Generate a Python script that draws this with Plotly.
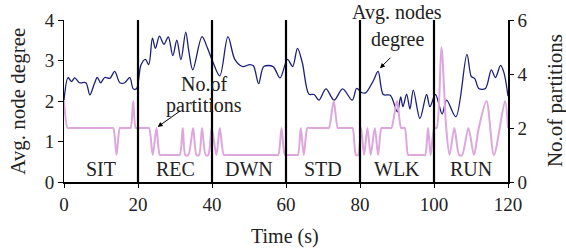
import plotly.graph_objects as go

# ---- data ----
deg_t = [0, 1.1, 2.0, 2.9, 4.2, 5.9, 7.0, 8.1, 9.0, 9.9, 11.0, 12.4, 13.7, 15.1, 16.4, 17.8, 18.7, 19.6,
         20.8, 22.0, 22.9, 23.9, 24.7, 25.8, 27.0, 28.2, 29.4, 30.5, 31.6, 32.9, 33.7, 34.8, 37.3, 38.8, 40.0,
         42.1, 44.3, 46.2, 48.3, 50.2, 51.2, 52.6, 54.0, 56.5, 58.4, 60.4,
         61.8, 63.1, 64.4, 66.2, 67.6, 68.9, 70.8, 73.0, 75.3, 77.9, 79.1, 80.4,
         81.5, 83.6, 84.9, 86.3, 88.2, 90.1, 91.0, 91.6, 92.6, 93.5, 94.4, 96.2, 98.0, 98.9, 100.4,
         102.2, 103.4, 105.9, 108.9, 110.1, 111.0, 112.1, 113.9, 115.5, 116.6, 118.0, 118.9, 120.0]
deg_v = [2.02, 2.58, 2.48, 2.57, 2.45, 2.45, 2.15, 2.40, 2.58, 2.45, 2.58, 2.56, 2.73, 2.45, 2.45, 2.58, 2.30, 2.30,
         2.89, 3.03, 2.90, 3.55, 3.30, 3.60, 3.40, 3.58, 3.12, 3.50, 3.02, 3.70, 3.25, 2.77, 3.59, 3.30, 3.02,
         2.62, 3.59, 3.02, 2.85, 2.90, 2.87, 2.43, 2.85, 2.85, 2.57, 3.03,
         2.85, 3.30, 2.95, 2.17, 2.16, 2.02, 2.30, 2.02, 2.30, 2.02, 2.31, 2.21,
         2.20, 2.50, 2.73, 2.16, 2.14, 1.73, 2.10, 1.86, 2.17, 1.80, 2.27, 1.57, 2.16, 1.86, 2.16,
         1.68, 2.02, 1.61, 3.15, 2.60, 2.56, 2.31, 2.31, 2.77, 2.58, 2.88, 2.70, 2.12]

part_t = [0, 1.0, 1.6, 12.7, 13.3, 14.2, 15.1, 15.6, 17.5, 18.0, 18.7, 19.4, 20.0, 22.5, 23.0,
          24.0, 25.0, 25.9, 26.5, 30.7, 31.3, 32.1, 32.8, 33.6, 34.9, 35.8, 36.5, 37.3, 38.3, 39.0, 39.9,
          41.2, 42.1, 43.2, 43.8, 57.3, 57.9, 58.8, 59.7, 60.3, 62.6, 63.2, 64.0, 64.8, 65.8, 66.4,
          71.1, 71.6, 72.9, 74.0, 74.5, 77.5, 78.0, 78.9, 79.5, 80.3, 81.1, 82.0, 82.9, 84.0, 84.9,
          85.8, 86.3, 88.0, 88.5, 90.0, 91.1, 91.6, 92.1, 93.0, 93.5, 97.0, 97.6, 98.4, 99.1, 100.1,
          100.7, 102.0, 103.3, 104.2, 105.5, 106.8, 107.6, 109.3, 110.8, 112.1, 114.2, 116.2, 119.2, 120.0]
part_v = [3, 2, 2, 2, 2, 1, 2, 2, 2, 2, 3, 2, 2, 2, 2,
          1, 2, 1, 1, 1, 1, 2, 1, 1, 2, 1, 1, 2, 1, 1, 2,
          1, 2, 1, 1, 1, 1, 2, 1, 1, 1, 1, 2, 1, 2, 2,
          2, 2, 3, 2, 2, 2, 2, 1, 1, 2, 1, 2, 1, 2, 1,
          2, 2, 2, 2, 3, 2, 2, 2, 1, 1, 1, 1, 2, 1, 2,
          2, 5, 2, 1, 2, 1, 1, 2, 1, 2, 3, 1, 3, 2]

x_ticks = [0, 20, 40, 60, 80, 100, 120]
seg_bounds = [20, 40, 60, 80, 100]
seg_labels = ["SIT", "REC", "DWN", "STD", "WLK", "RUN"]
seg_centers = [10, 30, 50, 70, 90, 110]

FONT = "Liberation Serif"
TXT = "#222222"
FS = 20

fig = go.Figure()
fig.add_trace(go.Scatter(x=part_t, y=part_v, yaxis="y2", mode="lines",
                         line=dict(color="#dda6dc", width=2, shape="spline", smoothing=0.8),
                         showlegend=False, hoverinfo="skip"))
fig.add_trace(go.Scatter(x=deg_t, y=deg_v, mode="lines",
                         line=dict(color="#1c1f78", width=1.3, shape="spline", smoothing=0.9),
                         showlegend=False, hoverinfo="skip"))

shapes = [dict(type="line", xref="x", yref="y", x0=b, x1=b, y0=0, y1=4,
               line=dict(color="black", width=2.2), layer="above") for b in seg_bounds]

def txt(x, y, s, xref="x", yref="y", angle=0, size=FS):
    return dict(x=x, y=y, xref=xref, yref=yref, text=s, showarrow=False, textangle=angle,
                xanchor="center", yanchor="middle",
                font=dict(family=FONT, size=size, color=TXT))

ann = [txt(c, 0.31, lab) for lab, c in zip(seg_labels, seg_centers)]
ann += [txt(37.8, 2.42, "No.of"), txt(37.8, 1.90, "partitions"),
        txt(0.75, 1.045, "Avg. nodes", "paper", "paper"), txt(90.0, 3.51, "degree")]

# axis titles
ann += [txt(0.498, -0.335, "Time (s)", "paper", "paper"),
        txt(-0.104, 0.5, "Avg. node degree", "paper", "paper", -90, 21),
        txt(1.106, 0.5, "No.of partitions", "paper", "paper", -90, 21)]

ann.append(dict(x=25.3, y=1.36, xref="x", yref="y", text="", showarrow=True,
                ax=24, ay=-17, arrowhead=2, arrowsize=1, arrowwidth=1, arrowcolor="black"))
ann.append(dict(x=85.4, y=2.81, xref="x", yref="y", text="", showarrow=True,
                ax=12, ay=-12, arrowhead=2, arrowsize=1, arrowwidth=1, arrowcolor="black"))

tickfont = dict(family=FONT, size=19, color=TXT)
fig.update_layout(
    width=566, height=250,
    margin=dict(l=64, r=58, t=20, b=68, autoexpand=False),
    paper_bgcolor="white", plot_bgcolor="white",
    font=dict(family=FONT, color=TXT),
    shapes=shapes, annotations=ann,
    xaxis=dict(range=[0, 120], tickvals=x_ticks, showgrid=False, zeroline=False, automargin=False,
               showline=True, linecolor="black", linewidth=1.5, ticks="outside", ticklen=4,
               tickcolor="black", tickfont=tickfont),
    yaxis=dict(range=[0, 4], dtick=1, showgrid=False, zeroline=False, automargin=False,
               showline=True, linecolor="black", linewidth=1, ticks="outside", ticklen=5,
               tickcolor="black", tickfont=tickfont),
    yaxis2=dict(range=[0, 6], dtick=2, overlaying="y", side="right", showgrid=False, zeroline=False,
                automargin=False, showline=True, linecolor="black", linewidth=1.5, ticks="outside",
                ticklen=4, tickcolor="black", tickfont=tickfont),
)

fig.write_html("out.html", config={"displayModeBar": False},
               post_script="document.body.style.margin='0';")
